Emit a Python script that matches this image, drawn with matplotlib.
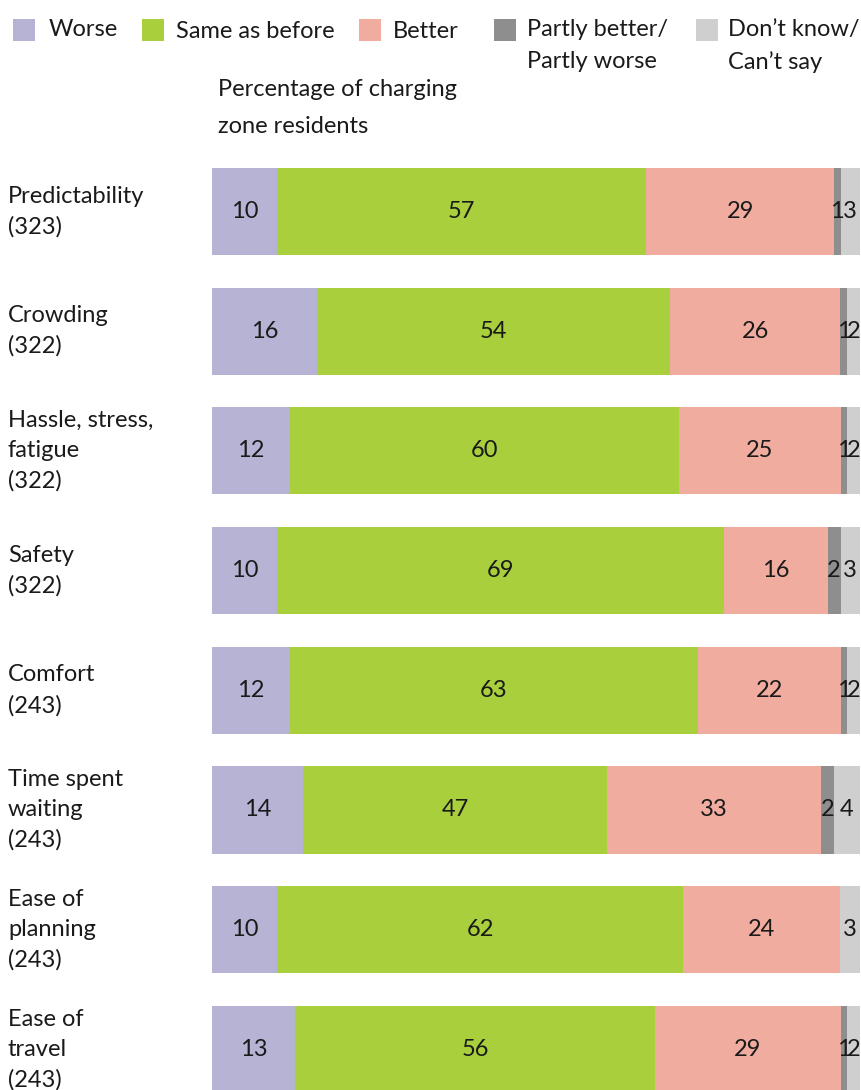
import matplotlib
matplotlib.use("Agg")
import matplotlib.pyplot as plt
from matplotlib.patches import Rectangle
from matplotlib.transforms import blended_transform_factory
import numpy as np

plt.rcParams['font.family'] = ['Lato', 'DejaVu Sans']

# Survey answers per aspect of travel (percentage of charging zone residents)
categories = [
    "Predictability\n(323)",
    "Crowding\n(322)",
    "Hassle, stress,\nfatigue\n(322)",
    "Safety\n(322)",
    "Comfort\n(243)",
    "Time spent\nwaiting\n(243)",
    "Ease of\nplanning\n(243)",
    "Ease of\ntravel\n(243)",
]
worse = [10, 16, 12, 10, 12, 14, 10, 13]
same = [57, 54, 60, 69, 63, 47, 62, 56]
better = [29, 26, 25, 16, 22, 33, 24, 29]
partly = [1, 1, 1, 2, 1, 2, 0, 1]
dont_know = [3, 2, 2, 3, 2, 4, 3, 2]

series_names = ["Worse", "Same as before", "Better",
                "Partly better/\nPartly worse", "Don\u2019t know/\nCan\u2019t say"]
colors = ["#b7b3d5", "#a9cf3d", "#f0ac9e", "#8e8e8e", "#cfcfcf"]

W, H = 861, 1090
FS = 17
INK = "#1a1a1a"
fig = plt.figure(figsize=(W / 100, H / 100), dpi=100)

# Axes spans the bar area; rows are 119.7 px apart, first centre at 211.5 px
row_px = 119.7
x0, x1 = 212, 860
ax = fig.add_axes([x0 / W, 0, (x1 - x0) / W, 1])
top = -211.5 / row_px
bottom = top + H / row_px
ax.set_ylim(bottom, top)
ax.set_xlim(0, 100)
ax.axis("off")

data = np.array([worse, same, better, partly, dont_know], dtype=float)
totals = data.sum(axis=0)
shares = data / totals * 100

y = np.arange(len(categories))
left = np.zeros(len(categories))
for k in range(data.shape[0]):
    ax.barh(y, shares[k], left=left, height=0.727, color=colors[k], linewidth=0)
    for i in range(len(categories)):
        if data[k, i] > 0:
            ax.text(left[i] + shares[k, i] / 2, y[i], f"{int(data[k, i])}",
                    ha="center", va="center", fontsize=FS, color=INK)
    left += shares[k]

# Category labels on the left
tr = blended_transform_factory(fig.transFigure, ax.transData)
for i, lab in enumerate(categories):
    ax.text(8 / W, y[i], lab, transform=tr, ha="left", va="center",
            fontsize=FS, color=INK, linespacing=1.52)

# Legend drawn along the top
def fy(py):
    return 1 - py / H

sq_x = [13, 142, 359, 494, 696]
txt_x = [49, 176, 393, 527, 728]
for k in range(5):
    fig.patches.append(Rectangle((sq_x[k] / W, fy(41)), 22 / W, 22 / H,
                                 transform=fig.transFigure, color=colors[k],
                                 linewidth=0))
    if "\n" in series_names[k]:
        fig.text(txt_x[k] / W, fy(19), series_names[k], ha="left", va="top",
                 fontsize=FS, color=INK, linespacing=1.62)
    else:
        fig.text(txt_x[k] / W, fy(29 if k == 0 else 32), series_names[k],
                 ha="left", va="center", fontsize=FS, color=INK)

fig.text(218 / W, fy(79), "Percentage of charging\nzone residents",
         ha="left", va="top", fontsize=FS, color=INK, linespacing=1.97)

fig.savefig("out.png", dpi=100)
